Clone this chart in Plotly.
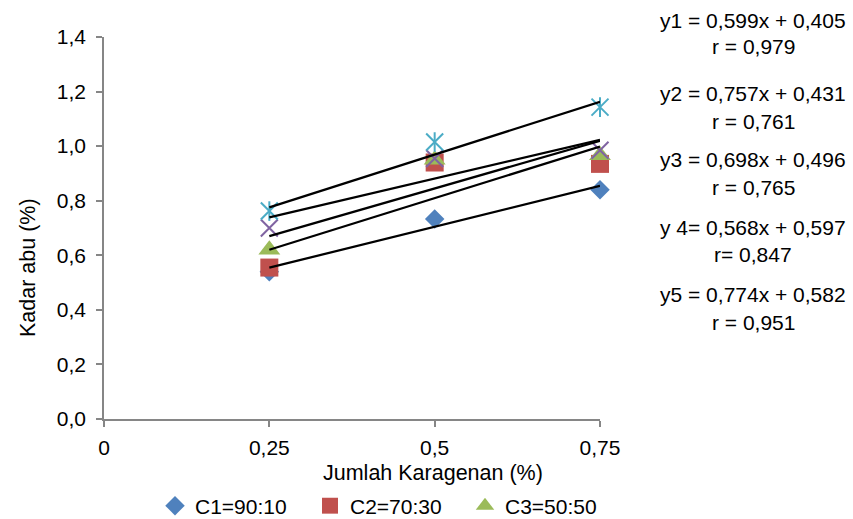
import numpy as np
import plotly.graph_objects as go

# ---- data ----
x_vals = [0.25, 0.5, 0.75]
series_names = ["C1=90:10", "C2=70:30", "C3=50:50", "C4=30:70", "C5=10:90"]
c1 = [0.54, 0.733, 0.84]
c2 = [0.555, 0.94, 0.935]
c3 = [0.62, 0.95, 0.967]
c4 = [0.70, 0.955, 0.985]
c5 = [0.762, 1.015, 1.143]

# trend line coefficients (from the equations shown)
slopes = [0.599, 0.757, 0.698, 0.568, 0.774]
intercepts = [0.405, 0.431, 0.496, 0.597, 0.582]
trend_x = [0.25, 0.75]

eq_labels = [
    "y1 = 0,599x + 0,405", "r = 0,979",
    "y2 = 0,757x + 0,431", "r = 0,761",
    "y3 = 0,698x + 0,496", "r = 0,765",
    "y 4= 0,568x + 0,597", "r= 0,847",
    "y5 = 0,774x + 0,582", "r = 0,951",
]

x_tickvals = [0, 0.25, 0.5, 0.75]
x_ticktext = ["0", "0,25", "0,5", "0,75"]
y_tickvals = [0, 0.2, 0.4, 0.6, 0.8, 1.0, 1.2, 1.4]

# ---- layout geometry (screen pixels; body margin removed below) ----
W, H = 853, 519
L, R, T, B = 104, 600, 37, 419
pw, ph = R - L, B - T


def px2paper(px, py):
    return (px - L) / pw, (B - py) / ph


FONT = "Liberation Sans, Arial, sans-serif"

fig = go.Figure()

fig.add_trace(go.Scatter(x=x_vals, y=c1, mode="markers", name=series_names[0],
                         marker=dict(symbol="diamond", size=15, color="#4F81BD"),
                         cliponaxis=False))
fig.add_trace(go.Scatter(x=x_vals, y=c2, mode="markers", name=series_names[1],
                         marker=dict(symbol="square", size=18, color="#C0504D"),
                         cliponaxis=False))
fig.add_trace(go.Scatter(x=x_vals, y=c3, mode="markers", name=series_names[2],
                         marker=dict(symbol="triangle-up", size=19, color="#9BBB59"),
                         cliponaxis=False))
fig.add_trace(go.Scatter(x=x_vals, y=c4, mode="markers", name=series_names[3],
                         marker=dict(symbol="x-thin-open", size=17, color="#8064A2",
                                     line=dict(width=2, color="#8064A2")),
                         cliponaxis=False, showlegend=False))
fig.add_trace(go.Scatter(x=x_vals, y=c5, mode="markers", name=series_names[4],
                         marker=dict(symbol="x-thin-open", size=17, color="#4BACC6",
                                     line=dict(width=2, color="#4BACC6")),
                         cliponaxis=False, showlegend=False))
fig.add_trace(go.Scatter(x=x_vals, y=c5, mode="markers", name=series_names[4],
                         marker=dict(symbol="line-ns-open", size=14, color="#4BACC6",
                                     line=dict(width=2, color="#4BACC6")),
                         cliponaxis=False, showlegend=False))

tx = np.array(trend_x)
for s, b in zip(slopes, intercepts):
    fig.add_trace(go.Scatter(x=tx, y=s * tx + b, mode="lines",
                             line=dict(color="black", width=2.25),
                             showlegend=False, hoverinfo="skip", cliponaxis=False))

annotations = []
# axis titles
ax, ay = px2paper(28, 268)
annotations.append(dict(text="Kadar abu (%)", x=ax, y=ay, xref="paper", yref="paper",
                        textangle=-90, showarrow=False, xanchor="center", yanchor="middle",
                        font=dict(size=21.5, color="black", family=FONT)))
ax, ay = px2paper(433, 473)
annotations.append(dict(text="Jumlah Karagenan (%)", x=ax, y=ay, xref="paper", yref="paper",
                        showarrow=False, xanchor="center", yanchor="middle",
                        font=dict(size=21.5, color="black", family=FONT)))

eq_y = [20, 47, 93, 121, 159, 187, 227, 254, 294, 322]
for lab, py in zip(eq_labels, eq_y):
    ax, ay = px2paper(753, py)
    annotations.append(dict(text=lab, x=ax, y=ay, xref="paper", yref="paper",
                            showarrow=False, xanchor="center", yanchor="middle",
                            font=dict(size=21, color="black", family=FONT)))

lx, ly = px2paper(155, 506)

fig.update_layout(
    width=W, height=H,
    margin=dict(l=L, r=W - R, t=T, b=H - B, autoexpand=False),
    paper_bgcolor="white", plot_bgcolor="white",
    separators=", ",
    font=dict(family=FONT, size=21, color="black"),
    showlegend=True,
    legend=dict(orientation="h", x=lx, y=ly, xanchor="left", yanchor="middle",
                font=dict(size=21, color="black", family=FONT),
                entrywidth=110, entrywidthmode="pixels", tracegroupgap=0,
                bgcolor="rgba(0,0,0,0)"),
    annotations=annotations,
    xaxis=dict(range=[0, 0.75], tickvals=x_tickvals, ticktext=x_ticktext,
               showgrid=False, zeroline=False, showline=True, linecolor="#868686",
               linewidth=1.5, ticks="outside", ticklen=6, tickcolor="#868686",
               tickwidth=1.5, ticklabelstandoff=3,
               tickfont=dict(size=21, color="black", family=FONT)),
    yaxis=dict(range=[0, 1.4], tickvals=y_tickvals, tickformat=".1f",
               showgrid=False, zeroline=False, showline=True, linecolor="#868686",
               linewidth=1.5, ticks="outside", ticklen=6, tickcolor="#868686",
               tickwidth=1.5, ticklabelstandoff=6,
               tickfont=dict(size=21, color="black", family=FONT)),
)

fig.write_html(
    "out.html",
    config={"displayModeBar": False},
    post_script="document.body.style.margin='0';document.body.style.overflow='hidden';",
)
